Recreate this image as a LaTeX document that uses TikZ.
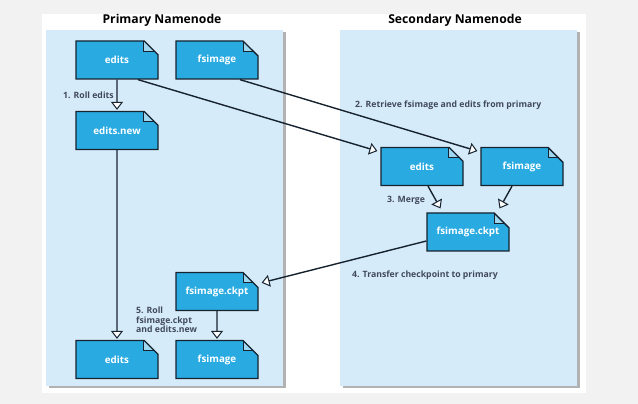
\documentclass[tikz,border=0pt]{standalone}
\usepackage{fontspec}
\setmainfont{Open Sans}
\usetikzlibrary{arrows.meta}
\usetikzlibrary{calc}
\usetikzlibrary{shapes.misc}
\usetikzlibrary{shadows}
\definecolor{pagegray}{HTML}{F2F2F2}
\definecolor{panelblue}{HTML}{D6EBF9}
\definecolor{docblue}{HTML}{29ABE2}
\definecolor{earblue}{HTML}{9FD6F0}
\definecolor{inkdark}{HTML}{16222E}
\definecolor{labelgray}{HTML}{414A5C}
\tikzset{
    docbox/.style={chamfered rectangle,chamfered rectangle corners=north east,
        chamfered rectangle xsep=15pt,chamfered rectangle ysep=10pt,
        draw=inkdark,line width=1.3pt,fill=docblue,text=white,inner sep=0pt,
        minimum width=82pt,minimum height=38pt,
        font=\fontsize{9.8}{11}\selectfont\bfseries,
        path picture={
            \fill[earblue] ($(path picture bounding box.north east)+(-15pt,0)$)
                -- ($(path picture bounding box.north east)+(-15pt,-10pt)$)
                -- ($(path picture bounding box.north east)+(0,-10pt)$) -- cycle;
            \draw[inkdark,line width=0.8pt] ($(path picture bounding box.north east)+(-15pt,0)$)
                -- ($(path picture bounding box.north east)+(-15pt,-10pt)$)
                -- ($(path picture bounding box.north east)+(0,-10pt)$);
        }},
    panelbox/.style={fill=panelblue,inner sep=0pt,minimum width=237pt,minimum height=356pt,
        drop shadow={shadow xshift=2.5pt,shadow yshift=-2.5pt,fill=black,opacity=0.3}},
    paneltitle/.style={font=\fontsize{12.2}{14}\selectfont\bfseries,text=black},
    steplabel/.style={font=\fontsize{8.7}{9.3}\selectfont\bfseries,text=labelgray,inner sep=0pt},
    flow/.style={draw=inkdark,line width=1.4pt,shorten >=1pt,
        -{Triangle[fill=white,length=8pt,width=12pt,line width=1pt]}}
}
\begin{document}
\begin{tikzpicture}[x=1pt,y=1pt]
    \useasboundingbox (0,0) rectangle (638,404);
    \fill[pagegray] (0,0) rectangle (638,404);
    \fill[white] (42,11) rectangle (586,390);
    \node[panelbox] (primary) at (164.5,196) {};
    \node[panelbox] (secondary) at (458.5,196) {};
    \node[paneltitle] (primarytitle) at (162,384) {Primary Namenode};
    \node[paneltitle] (secondarytitle) at (455,384) {Secondary Namenode};

    \node[docbox] (edits) at (117,344) {edits};
    \node[docbox] (fsimage) at (217,344) {fsimage};
    \node[docbox] (editsnew) at (117,273.5) {edits.new};
    \node[docbox] (ckptprimary) at (217,112.5) {fsimage.ckpt};
    \node[docbox] (editsfinal) at (117,44.5) {edits};
    \node[docbox] (fsimagefinal) at (217,44.5) {fsimage};
    \node[docbox] (editscopy) at (422,237.5) {edits};
    \node[docbox] (fsimagecopy) at (522,237.5) {fsimage};
    \node[docbox] (ckptsecondary) at (468,172) {fsimage.ckpt};

    \draw[flow] (edits) -- (editsnew);
    \draw[flow] (editsnew) -- (editsfinal);
    \draw[flow] (ckptprimary) -- (fsimagefinal);
    \draw[flow] ([xshift=21pt]edits.south) -- ([xshift=-2pt,yshift=-4.5pt]editscopy.north west);
    \draw[flow] ([xshift=23pt]fsimage.south) -- ([xshift=-2pt,yshift=-4.5pt]fsimagecopy.north west);
    \draw[flow] ([xshift=6pt]editscopy.south) -- ([xshift=-27pt,yshift=3pt]ckptsecondary.north);
    \draw[flow] ([xshift=-10pt]fsimagecopy.south) -- ([xshift=31pt,yshift=3pt]ckptsecondary.north);
    \draw[flow] ([yshift=-9pt]ckptsecondary.west) -- ([xshift=2pt,yshift=8.5pt]ckptprimary.east);

    \node[steplabel,anchor=west] (rolllabel) at (63,309) {1. Roll edits};
    \node[steplabel,anchor=west] (retrievelabel) at (355,299) {2. Retrieve fsimage and edits from primary};
    \node[steplabel,anchor=west] (mergelabel) at (387,204) {3. Merge};
    \node[steplabel,anchor=west] (transferlabel) at (352,129) {4. Transfer checkpoint to primary};
    \node[steplabel,anchor=west,align=left] (finallabel) at (136,84) {5. Roll\\fsimage.ckpt\\and edits.new};
\end{tikzpicture}
\end{document}
